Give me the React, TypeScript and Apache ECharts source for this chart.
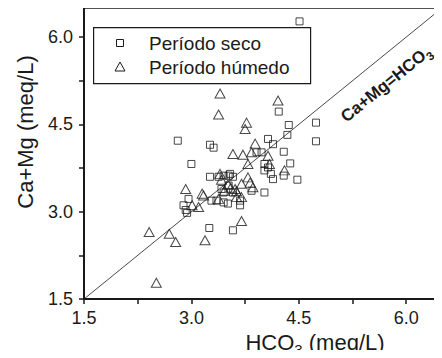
import React, { useEffect, useRef } from "react";
import * as echarts from "echarts";

const seriesNames = ["Período seco", "Período húmedo"];

const periodoSeco: [number, number][] = [
  [4.51, 6.27], [2.81, 4.22], [4.22, 4.72], [4.36, 4.49], [4.34, 4.32], [4.74, 4.53],
  [4.74, 4.21], [3.26, 4.15], [3.31, 4.1], [3.0, 3.82], [4.07, 4.25], [4.14, 4.16],
  [3.91, 4.02], [3.98, 4.02], [4.29, 4.03], [4.38, 3.83], [4.02, 3.82], [4.07, 3.76],
  [4.02, 3.71], [4.11, 3.65], [4.14, 3.56], [4.29, 3.62], [4.48, 3.55], [3.26, 3.6],
  [3.38, 3.6], [3.45, 3.62], [3.52, 3.62], [3.58, 3.6], [3.42, 3.39], [3.45, 3.33],
  [3.58, 3.33], [3.84, 3.36], [4.02, 3.33], [3.28, 3.19], [3.35, 3.19], [3.45, 3.16],
  [3.51, 3.14], [3.68, 3.19], [3.68, 3.11], [2.96, 3.22], [2.89, 3.11], [2.92, 3.03],
  [2.94, 2.98], [3.25, 2.72], [3.58, 2.68], [3.54, 3.65], [3.52, 3.45],
];

const periodoHumedo: [number, number][] = [
  [3.4, 5.03], [3.38, 4.67], [4.21, 4.91], [3.77, 4.53], [3.75, 4.42], [3.89, 4.17],
  [3.58, 3.99], [3.72, 3.98], [3.84, 4.02], [4.07, 3.96], [3.79, 3.82], [4.09, 3.82],
  [4.3, 3.71], [3.4, 3.65], [3.79, 3.59], [3.82, 3.5], [3.51, 3.47], [3.55, 3.41],
  [3.63, 3.35], [3.46, 3.36], [3.86, 3.42], [3.61, 3.39], [3.7, 3.48], [3.63, 3.25],
  [3.7, 3.25], [3.38, 3.22], [2.92, 3.39], [3.15, 3.31], [3.17, 3.28], [3.01, 3.11],
  [3.1, 3.08], [3.7, 2.84], [3.19, 2.51], [2.41, 2.65], [2.69, 2.62], [2.78, 2.48],
  [2.51, 1.78], [3.42, 3.55],
];

const identityLine: [number, number][] = [
  [1.5, 1.5],
  [6.5, 6.5],
];

const axisMin = 1.5;
const axisMax = 6.5;
const tickValues = [1.5, 2.25, 3.0, 3.75, 4.5, 5.25, 6.0];
const labelValues = [1.5, 3.0, 4.5, 6.0];

const FONT = "'Liberation Sans', Arial, sans-serif";
const INK = "#1a1a1a";

export default function App() {
  const ref = useRef<HTMLDivElement>(null);

  useEffect(() => {
    if (!ref.current) return;
    const chart = echarts.init(ref.current, undefined, { renderer: "svg" });

    const axisCommon = (isX: boolean) => ({
      type: "value" as const,
      min: axisMin,
      max: axisMax,
      splitLine: { show: false },
      axisLine: { show: true, lineStyle: { color: INK, width: 2 } },
      axisTick: {
        show: true,
        inside: false,
        length: 5,
        customValues: tickValues,
        lineStyle: { color: INK, width: 1.5 },
      },
      axisLabel: {
        show: true,
        customValues: labelValues,
        formatter: (v: number) => v.toFixed(1),
        fontFamily: FONT,
        fontSize: 18,
        color: INK,
        margin: isX ? 10 : 11,
      },
    });

    chart.setOption({
      animation: false,
      backgroundColor: "#ffffff",
      grid: {
        left: 84,
        top: 8,
        width: 362,
        height: 291,
        show: true,
        borderColor: INK,
        borderWidth: 1.5,
        containLabel: false,
      },
      xAxis: axisCommon(true),
      yAxis: axisCommon(false),
      series: [
        {
          name: "identidad",
          type: "line",
          data: identityLine,
          symbol: "none",
          lineStyle: { color: INK, width: 0.8 },
          silent: true,
          z: 1,
        },
        {
          name: seriesNames[0],
          type: "scatter",
          data: periodoSeco,
          symbol: "rect",
          symbolSize: 7,
          itemStyle: { color: "rgba(0,0,0,0)", borderColor: INK, borderWidth: 1 },
          z: 3,
        },
        {
          name: seriesNames[1],
          type: "scatter",
          data: periodoHumedo,
          symbol: "triangle",
          symbolSize: [10, 9],
          itemStyle: { color: "rgba(0,0,0,0)", borderColor: INK, borderWidth: 1 },
          z: 3,
        },
      ],
      graphic: [
        {
          type: "rect",
          left: 93,
          top: 27,
          shape: { width: 217, height: 56 },
          style: { fill: "#fff", stroke: INK, lineWidth: 1.2 },
          z: 10,
        },
        {
          type: "rect",
          shape: { x: 116.5, y: 39.5, width: 7, height: 7 },
          style: { fill: "none", stroke: INK, lineWidth: 1 },
          z: 11,
        },
        {
          type: "polygon",
          shape: { points: [[120, 62], [125, 71], [115, 71]] },
          style: { fill: "none", stroke: INK, lineWidth: 1 },
          z: 11,
        },
        {
          type: "text",
          x: 149,
          y: 43,
          style: {
            text: seriesNames[0],
            fontFamily: FONT,
            fontSize: 19,
            fill: INK,
            textVerticalAlign: "middle",
            verticalAlign: "middle",
          },
          z: 11,
        },
        {
          type: "text",
          x: 149,
          y: 67,
          style: {
            text: seriesNames[1],
            fontFamily: FONT,
            fontSize: 19,
            fill: INK,
            textVerticalAlign: "middle",
            verticalAlign: "middle",
          },
          z: 11,
        },
        {
          type: "text",
          x: 315,
          y: 342,
          style: {
            text: "{a|HCO}{s|3}{a| (meq/L)}",
            align: "center",
            verticalAlign: "middle",
            rich: {
              a: { fontFamily: FONT, fontSize: 22, fill: INK, color: INK, lineHeight: 30, verticalAlign: "middle" },
              s: { fontFamily: FONT, fontSize: 15, fill: INK, color: INK, lineHeight: 15, verticalAlign: "bottom" },
            },
          },
          z: 11,
        },
        {
          type: "text",
          x: 25,
          y: 132,
          rotation: Math.PI / 2,
          style: {
            text: "Ca+Mg (meq/L)",
            fontFamily: FONT,
            fontSize: 22,
            fill: INK,
            align: "center",
            verticalAlign: "middle",
          },
          z: 11,
        },
        {
          type: "text",
          x: 386,
          y: 84,
          rotation: Math.atan2(58.2, 72.4),
          style: {
            text: "{b|Ca+Mg=HCO}{bs|3}",
            align: "center",
            verticalAlign: "middle",
            rich: {
              b: { fontFamily: FONT, fontSize: 17, fontWeight: "bold", fill: INK, color: INK, lineHeight: 24, verticalAlign: "middle" },
              bs: { fontFamily: FONT, fontSize: 12, fontWeight: "bold", fill: INK, color: INK, lineHeight: 12, verticalAlign: "bottom" },
            },
          },
          z: 11,
        },
      ],
    });

    return () => chart.dispose();
  }, []);

  return <div ref={ref} style={{ width: 442, height: 358, margin: -8 }} />;
}
